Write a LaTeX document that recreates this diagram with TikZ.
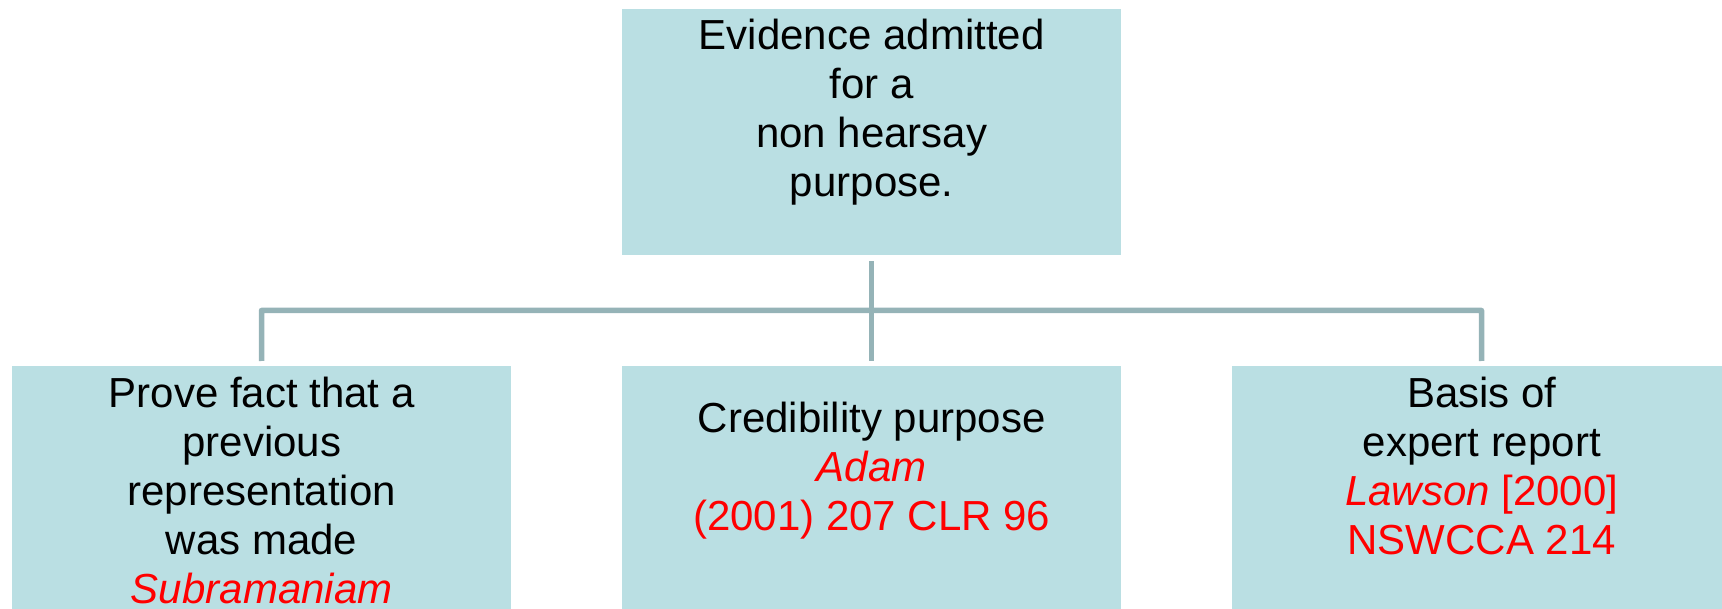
\documentclass[tikz,border=0pt]{standalone}
\usepackage{fontspec}
\setmainfont{Liberation Sans}
\definecolor{boxfill}{RGB}{186,223,227}
\definecolor{connline}{RGB}{149,179,183}
\definecolor{citered}{RGB}{255,0,0}
\begin{document}
\begin{tikzpicture}[x=1pt,y=-1pt,
  box/.style={fill=boxfill, draw=none, minimum width=499pt, minimum height=246pt, inner sep=0pt, anchor=north west},
  txt/.style={anchor=north, align=center, inner sep=0pt, font=\fontsize{42}{49}\selectfont, text=black},
  conn/.style={draw=connline, line width=5.5pt, line join=round}]
\useasboundingbox (0,0) rectangle (1722,609);
\clip (0,0) rectangle (1722,609);
\node[box] (top) at (622,9) {};
\node[box] (left) at (12,366) {};
\node[box] (mid) at (622,366) {};
\node[box] (right) at (1232,366) {};
\node[txt] (toptxt) at ([yshift=-10pt]top.north) {Evidence admitted\\for a\\non hearsay\\purpose.};
\node[txt] (lefttxt) at ([yshift=-11pt]left.north) {Prove fact that a\\previous\\representation\\was made\\\textcolor{citered}{\itshape Subramaniam}};
\node[txt] (midtxt) at ([yshift=-36pt]mid.north) {Credibility purpose\\\textcolor{citered}{\itshape Adam}\\\textcolor{citered}{(2001) 207 CLR 96}};
\node[txt] (righttxt) at ([yshift=-11pt]right.north) {Basis of\\expert report\\\textcolor{citered}{\itshape Lawson\upshape{} [2000]}\\\textcolor{citered}{NSWCCA 214}};
\coordinate (hl) at (261.5,310.5);
\coordinate (hr) at (1481.5,310.5);
\draw[conn] ([yshift=-6pt]top.south) -- ([yshift=5pt]mid.north);
\draw[conn] ([yshift=5pt]left.north) -- (hl) -- (hr) -- ([yshift=5pt]right.north);
\end{tikzpicture}
\end{document}
